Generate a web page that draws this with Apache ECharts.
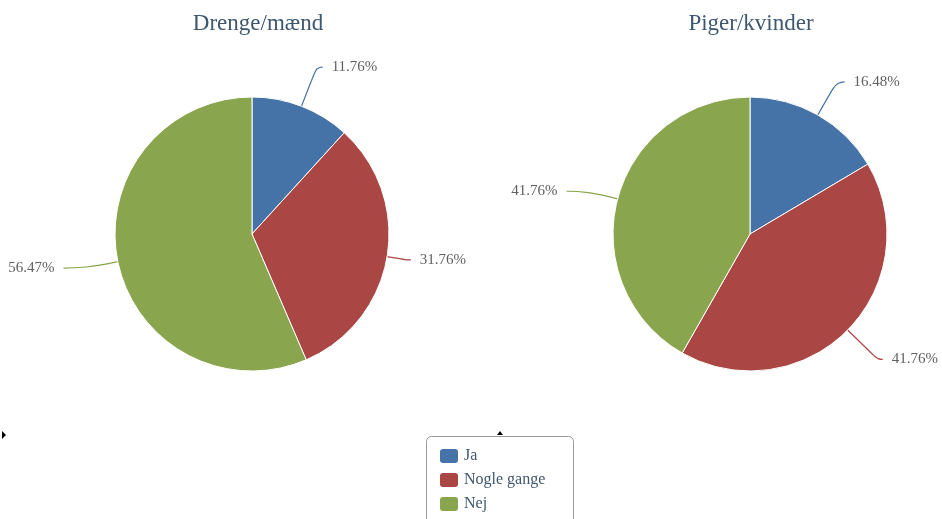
<!DOCTYPE html>
<html><head><meta charset="utf-8">
<script src="https://cdn.jsdelivr.net/npm/echarts@6/dist/echarts.min.js"></script>
<style>html,body{margin:0;padding:0;background:#fff}#c{width:942px;height:519px}</style>
</head><body><div id="c"></div>
<script>
const categories = ['Ja', 'Nogle gange', 'Nej'];
const titles = ['Drenge/mænd', 'Piger/kvinder'];
const boysValues = [11.76, 31.76, 56.47];
const girlsValues = [16.48, 41.76, 41.76];
const colors = ['#4572A7', '#AA4643', '#89A54E'];
// connector lengths per slice [length, length2] (styling only)
const boysConnectors = [[42, 6], [20, 4], [32, 23]];
const girlsConnectors = [[38, 8], [42, 5], [30, 22]];
const font = '"Liberation Serif", "DejaVu Serif", serif';

function mk(vals, conn){
  return categories.map((n,i)=>({name:n, value:vals[i], labelLine:{length:conn[i][0], length2:conn[i][1]}}));
}
function pie(name, center, vals, conn){
  return {
    type:'pie', name, center, radius:137, startAngle:90, clockwise:true,
    data: mk(vals, conn),
    itemStyle:{borderColor:'#fff', borderWidth:1},
    label:{show:true, formatter: p=>p.value.toFixed(2)+'%', color:'#606060', fontSize:15, fontFamily:font, distanceToLabelLine:9, overflow:'none'},
    labelLine:{show:true, smooth:0.5, lineStyle:{width:1.2}},
    emphasis:{disabled:true},
    animation:false
  };
}
const chart = echarts.init(document.getElementById('c'));
chart.setOption({
  color: colors,
  animation:false,
  title:[
    {text:titles[0], left:253, top:7, textAlign:'center', textStyle:{color:'#3E576F', fontSize:23, fontWeight:'normal', fontFamily:font}},
    {text:titles[1], left:746, top:7, textAlign:'center', textStyle:{color:'#3E576F', fontSize:23, fontWeight:'normal', fontFamily:font}}
  ],
  legend:{
    orient:'vertical', left:433, top:442, height:100, itemWidth:20, itemHeight:16, itemGap:6,
    icon:'roundRect', data:categories,
    textStyle:{color:'#3E576F', fontSize:16, fontFamily:font, lineHeight:16}
  },
  graphic:[
    {type:'rect', shape:{x:426.5, y:436.5, width:147, height:100, r:5}, style:{fill:'none', stroke:'#999', lineWidth:1}, z:-1},
    {type:'polygon', shape:{points:[[2,431],[6,435],[2,439]]}, style:{fill:'#000'}},
    {type:'polygon', shape:{points:[[497,435],[500,431],[503,435]]}, style:{fill:'#000'}}
  ],
  series:[
    pie(titles[0], [252,234], boysValues, boysConnectors),
    pie(titles[1], [750,234], girlsValues, girlsConnectors)
  ]
});
</script></body></html>
